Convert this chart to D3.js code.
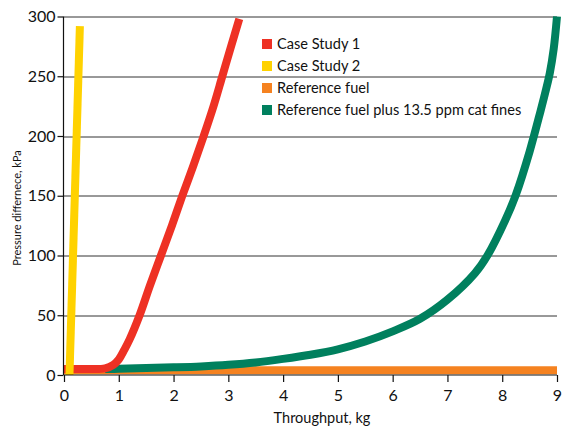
<!DOCTYPE html>
<html>
<head>
<meta charset="utf-8">
<script src="https://cdn.jsdelivr.net/npm/d3@7"></script>
<style>
  body { margin: 0; background: #fff; }
  text { font-family: Lato, "Open Sans", sans-serif; fill: #111; }
</style>
</head>
<body>
<div id="chart"></div>
<script>
// data: [throughput kg, pressure kPa]
var referenceFuel = [[0, 4], [9, 4]];
var catFines = [[0.75, 5], [1, 5.2], [1.5, 5.8], [2, 6.4], [2.5, 7.2], [3, 8.5], [3.5, 10.5],
    [4, 13.5], [4.5, 17], [5, 21.5], [5.5, 28], [6, 36.5], [6.5, 47], [7, 63], [7.5, 85],
    [7.73, 100], [8.05, 129], [8.25, 151], [8.5, 187], [8.7, 221], [8.8, 239], [8.87, 253],
    [8.94, 273], [9, 300]];
var caseStudy1 = [[0, 5], [0.5, 5], [0.75, 5.6], [0.9, 8.5], [1.0, 13], [1.1, 21], [1.2, 30],
    [1.38, 50], [1.57, 75], [1.77, 100], [1.97, 125], [2.16, 150], [2.36, 175], [2.55, 200],
    [2.73, 225], [2.89, 250], [3.05, 275], [3.2, 298]];
var caseStudy2 = [[0.1, 0], [0.29, 292]];

var xTicks = [0, 1, 2, 3, 4, 5, 6, 7, 8, 9];
var yTicks = [0, 50, 100, 150, 200, 250, 300];

var series = [
    { name: "Reference fuel", color: "#f58220", values: referenceFuel },
    { name: "Reference fuel plus 13.5 ppm cat fines", color: "#00805e", values: catFines },
    { name: "Case Study 1", color: "#ee3124", values: caseStudy1 },
    { name: "Case Study 2", color: "#ffd200", values: caseStudy2 }
];
var legendOrder = ["Case Study 1", "Case Study 2", "Reference fuel", "Reference fuel plus 13.5 ppm cat fines"];

var svgWidth = 563;
var svgHeight = 428;
var margin = { top: 16.5, right: 6, bottom: 53, left: 64 };
var width = svgWidth - margin.left - margin.right;
var height = svgHeight - margin.top - margin.bottom;

var svg = d3.select("#chart")
    .append("svg")
    .attr("width", svgWidth)
    .attr("height", svgHeight);

var g = svg.append("g")
    .attr("transform", `translate(${margin.left}, ${margin.top})`);

var x = d3.scaleLinear().domain([0, 9]).range([0, 493]);
var y = d3.scaleLinear().domain([0, 300]).range([height, 0]);

// gridlines
g.append("g")
    .selectAll("line")
    .data(yTicks.filter(d => d > 0))
    .enter()
    .append("line")
    .attr("x1", 0)
    .attr("x2", x(9))
    .attr("y1", d => Math.round(y(d)) + 0.5)
    .attr("y2", d => Math.round(y(d)) + 0.5)
    .attr("stroke", "#333")
    .attr("stroke-width", 1);

// lines
var line = d3.line()
    .x(d => x(d[0]))
    .y(d => y(d[1]))
    .curve(d3.curveCatmullRom.alpha(0.5));

g.selectAll(".series")
    .data(series)
    .enter()
    .append("path")
    .attr("class", "series")
    .attr("d", d => line(d.values))
    .attr("fill", "none")
    .attr("stroke", d => d.color)
    .attr("stroke-width", 8);

// axes
var xAxis = d3.axisBottom(x).tickValues(xTicks).tickSize(7).tickPadding(8);
var yAxis = d3.axisLeft(y).tickValues(yTicks).tickSize(6).tickPadding(2);

var xg = g.append("g")
    .attr("transform", `translate(0, ${height})`)
    .call(xAxis);
var yg = g.append("g")
    .attr("transform", "translate(-0.5, 0)")
    .call(yAxis);

[xg, yg].forEach(a => {
    a.select(".domain").attr("stroke", "#111").attr("stroke-width", 1.2);
    a.selectAll(".tick line").attr("stroke", "#111").attr("stroke-width", 1.2);
    a.selectAll(".tick text")
        .style("font-family", "Lato, sans-serif")
        .style("font-size", "16px")
        .attr("fill", "#111");
});
yg.select(".domain").attr("d", `M0,${height}V0`);
xg.select(".domain").attr("d", `M0,0H${x(9)}`);

// axis titles
svg.append("text")
    .attr("x", 322)
    .attr("y", 423)
    .attr("text-anchor", "middle")
    .style("font-size", "14.5px")
    .text("Throughput, kg");

svg.append("text")
    .attr("transform", "translate(21, 208) rotate(-90)")
    .attr("text-anchor", "middle")
    .style("font-size", "11px")
    .text("Pressure differnece, kPa");

// legend
var legend = svg.append("g")
    .attr("transform", "translate(262, 39)")
    .selectAll("g")
    .data(legendOrder.map(n => series.find(s => s.name === n)))
    .enter()
    .append("g")
    .attr("transform", (d, i) => `translate(0, ${i * 22})`);

legend.append("rect")
    .attr("width", 10)
    .attr("height", 10)
    .attr("fill", d => d.color);

legend.append("text")
    .attr("x", 15)
    .attr("y", 10)
    .style("font-size", "14.6px")
    .text(d => d.name);
</script>
</body>
</html>
